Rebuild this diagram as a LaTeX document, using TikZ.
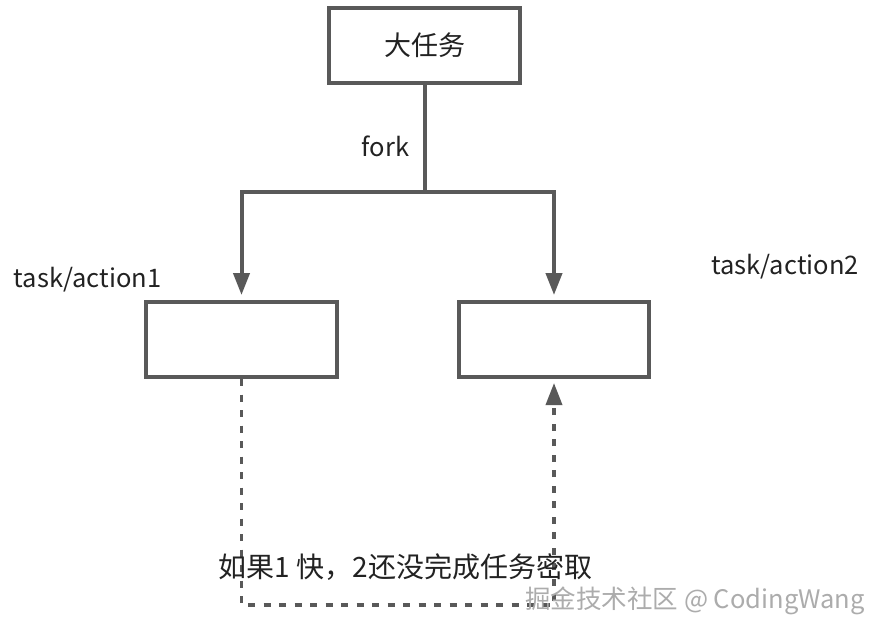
\documentclass[tikz,border=0pt]{standalone}
\usepackage{fontspec}
\setmainfont{Noto Sans CJK SC}
\usetikzlibrary{arrows.meta}
\definecolor{ln}{HTML}{595959}
\definecolor{tx}{HTML}{222222}
\begin{document}
\begin{tikzpicture}[x=1pt,y=-1pt,
  box/.style={draw=ln,line width=4pt,rectangle,inner sep=0pt,minimum height=75pt,text=tx},
  arr/.style={draw=ln,line width=4pt,-{Triangle[width=16pt,length=22pt]}},
  dsh/.style={draw=ln,line width=3.5pt,dash pattern=on 7pt off 8.5pt,-{Triangle[width=16pt,length=22pt]}},
  lbl/.style={text=tx,inner sep=0pt,anchor=base,font=\fontsize{25.5}{30}\selectfont},
  wm/.style={inner sep=0pt,font=\fontsize{25.5}{30}\selectfont}]
\useasboundingbox[fill=white] (0,0) rectangle (878,635);
\node[box,minimum width=191pt,font=\fontsize{27}{32}\selectfont] (top) at (424.5,45.5) {大任务};
\node[box,minimum width=191pt] (left) at (241.5,339.5) {};
\node[box,minimum width=190pt] (right) at (554,339.5) {};
\coordinate (fk) at (424.5,192);
\coordinate (dl) at (241.5,605);
\draw[draw=ln,line width=4pt] (top.south) -- (fk);
\draw[arr,shorten >=5pt] (fk) -| (left.north);
\draw[arr,shorten >=5pt] (fk) -| (right.north);
\draw[dsh,shorten >=4pt] (left.south) -- (dl) -| (right.south);
\node[lbl] (fork) at (385.5,156) {fork};
\node[lbl] (t1) at (87.5,287) {task/action1};
\node[lbl] (t2) at (785,274) {task/action2};
\node[text=tx,inner sep=0pt,font=\fontsize{28}{33}\selectfont] (msg) at (405.5,567) {如果1 快，2还没完成任务密取};
\node[wm,text=gray!65] (wm) at (695,601) {掘金技术社区 @ CodingWang};
\end{tikzpicture}
\end{document}
